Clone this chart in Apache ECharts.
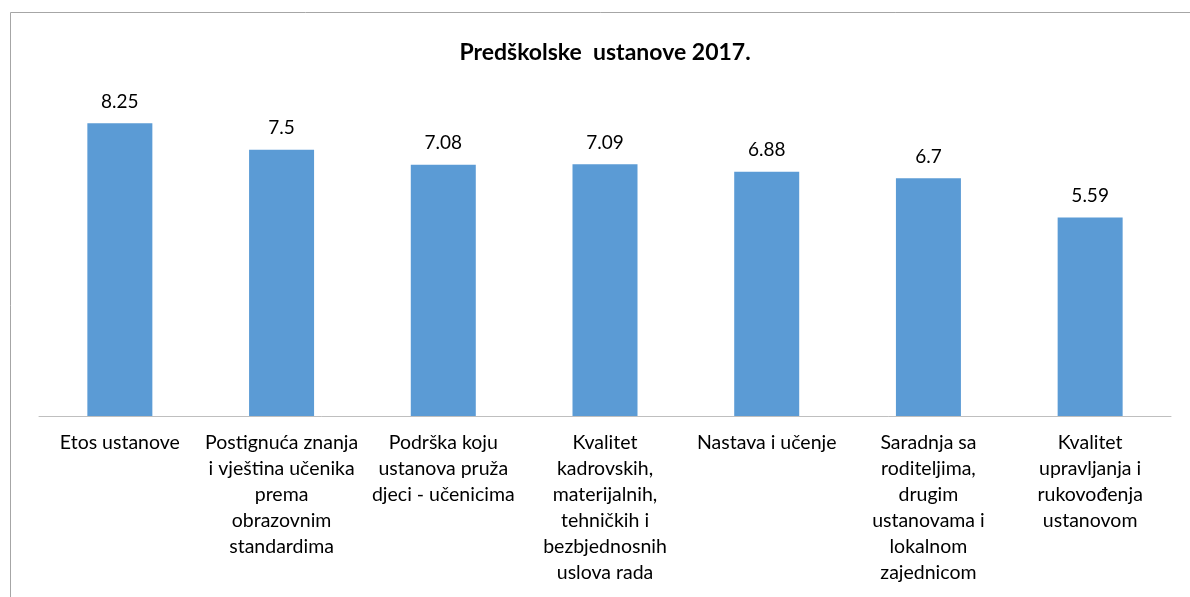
<!DOCTYPE html>
<html>
<head>
<meta charset="utf-8">
<script src="https://cdn.jsdelivr.net/npm/echarts@6/dist/echarts.min.js"></script>
<style>
  html, body { margin: 0; padding: 0; background: #fff; }
  #main { width: 1190px; height: 597px; }
</style>
</head>
<body>
<div id="main"></div>
<script>
// podaci
var titleText = 'Predškolske  ustanove 2017.';
var categories = [
  'Etos ustanove',
  'Postignuća znanja\ni vještina učenika\nprema\nobrazovnim\nstandardima',
  'Podrška koju\nustanova pruža\ndjeci - učenicima',
  'Kvalitet\nkadrovskih,\nmaterijalnih,\ntehničkih i\nbezbjednosnih\nuslova rada',
  'Nastava i učenje',
  'Saradnja sa\nroditeljima,\ndrugim\nustanovama i\nlokalnom\nzajednicom',
  'Kvalitet\nupravljanja i\nrukovođenja\nustanovom'
];
var values = [8.25, 7.5, 7.08, 7.09, 6.88, 6.7, 5.59];

var fontFam = 'Lato, "Noto Sans", sans-serif';

var myChart = echarts.init(document.getElementById('main'));
myChart.setOption({
  animation: false,
  title: {
    text: titleText,
    left: 600,
    textAlign: 'center',
    top: 36,
    textStyle: { fontFamily: fontFam, fontSize: 23, fontWeight: 'bold', color: '#000' }
  },
  graphic: [{
    type: 'polyline',
    shape: { points: [[10.5, 600], [10.5, 12.5], [1195, 12.5]] },
    style: { stroke: '#a6a6a6', fill: null, lineWidth: 1 },
    silent: true
  }],
  grid: { left: 39, right: 19, top: 61, bottom: 181, containLabel: false },
  xAxis: {
    type: 'category',
    data: categories,
    axisLine: { lineStyle: { color: '#bfbfbf', width: 1 } },
    axisTick: { show: false },
    axisLabel: {
      interval: 0,
      color: '#000',
      fontFamily: fontFam,
      fontSize: 19.5,
      lineHeight: 26,
      margin: 14,
      align: 'center'
    }
  },
  yAxis: {
    type: 'value',
    min: 0,
    max: 10,
    show: false,
    splitLine: { show: false }
  },
  series: [{
    type: 'bar',
    data: values,
    barWidth: 65,
    itemStyle: { color: '#5b9bd5' },
    label: {
      show: true,
      position: 'top',
      distance: 12,
      color: '#000',
      fontFamily: fontFam,
      fontSize: 19
    }
  }]
});
</script>
</body>
</html>
